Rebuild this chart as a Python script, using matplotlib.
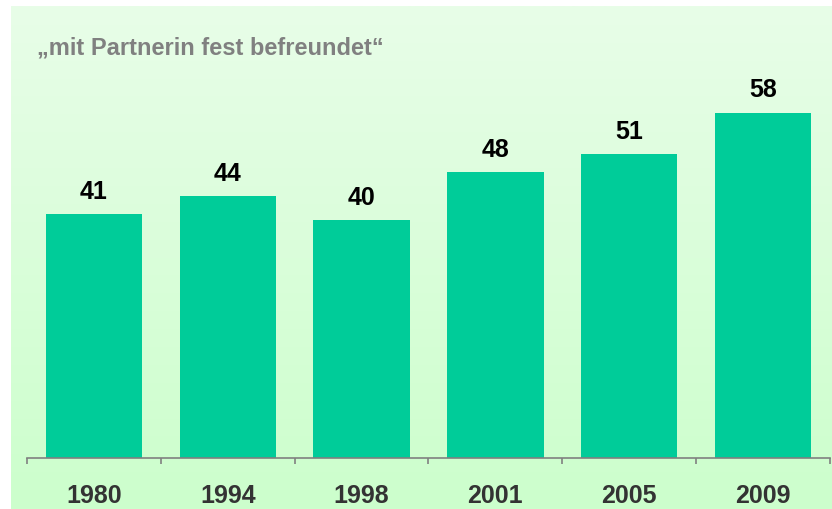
import numpy as np
import matplotlib.pyplot as plt
from matplotlib.colors import LinearSegmentedColormap

plt.rcParams["font.family"] = ["Liberation Sans", "DejaVu Sans"]

years = ["1980", "1994", "1998", "2001", "2005", "2009"]
values = [41, 44, 40, 48, 51, 58]
title = "\u201emit Partnerin fest befreundet\u201c"

W, H = 832, 510
fig = plt.figure(figsize=(W / 100, H / 100), dpi=100)

# gradient panel behind the chart
bg = fig.add_axes([11 / W, 0, (W - 11) / W, (H - 7) / H])
bg.axis("off")
cmap = LinearSegmentedColormap.from_list("bg", ["#CCFFCC", "#E8FDE8"])
bg.imshow(np.linspace(0, 1, 256).reshape(-1, 1), aspect="auto", cmap=cmap,
          origin="lower", extent=[0, 1, 0, 1])
bg.set_xlim(0, 1)
bg.set_ylim(0, 1)

ax = fig.add_axes([27 / W, 51 / H, (830 - 27) / W, (459 - 60) / H])
ax.patch.set_alpha(0)
x = np.arange(len(years))
bars = ax.bar(x, values, width=0.72, color="#00CC99")

for xi, v in zip(x, values):
    ax.annotate(str(v), (xi, v), xytext=(0, 8), textcoords="offset points",
                ha="center", va="bottom", fontsize=18, fontweight="bold",
                color="black")

ax.set_xlim(-0.5, len(years) - 0.5)
ax.set_ylim(0, 67)
for s in ["top", "right", "left"]:
    ax.spines[s].set_visible(False)
ax.spines["bottom"].set_color("#808080")
ax.spines["bottom"].set_linewidth(1.2)
ax.set_yticks([])
ax.set_xticks(x)
ax.set_xticklabels(years, fontsize=18, fontweight="bold", color="#333333")
ax.tick_params(axis="x", which="major", length=0, pad=18)
ax.set_xticks(np.arange(-0.5, len(years)), minor=True)
ax.tick_params(axis="x", which="minor", length=4.5, width=1.2, color="#808080")

fig.text(37 / W, 1 - 48 / H, title, fontsize=17, fontweight="bold",
         color="#808080", ha="left", va="center")

fig.savefig("out.png", dpi=100)
